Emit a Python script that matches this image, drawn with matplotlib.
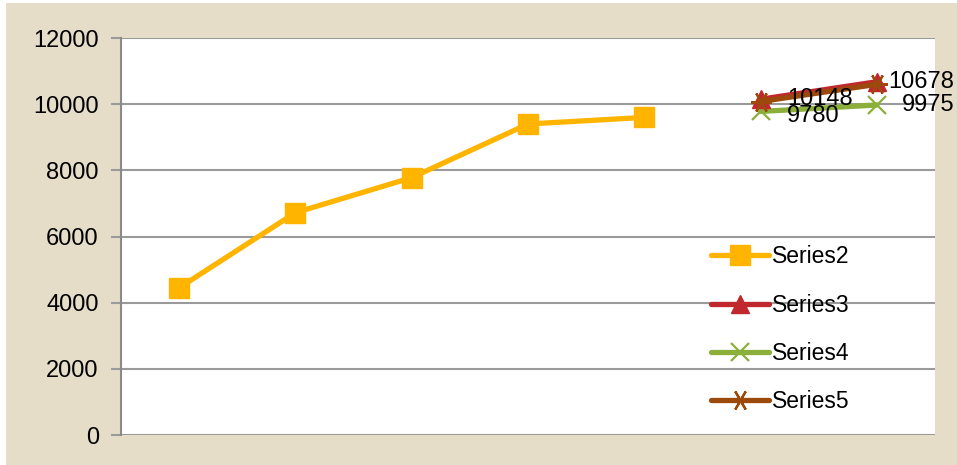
import matplotlib
matplotlib.use("Agg")
import matplotlib.pyplot as plt
from matplotlib.patches import Rectangle

plt.rcParams["font.family"] = ["Liberation Sans", "DejaVu Sans"]

categories = [1, 2, 3, 4, 5, 6, 7]
series2_x = [0, 1, 2, 3, 4]
series2 = [4450, 6720, 7780, 9400, 9600]
late_x = [5, 6]
series3 = [10148, 10678]
series4 = [9780, 9975]
series5 = [10080, 10600]
yticks = [0, 2000, 4000, 6000, 8000, 10000, 12000]

fig = plt.figure(figsize=(9.57, 4.65), dpi=100)
fig.patch.set_facecolor("white")
fig.patches.append(Rectangle((6 / 957, 0), 1, 1 - 3 / 465, transform=fig.transFigure,
                             facecolor="#E5DDC8", edgecolor="none", zorder=-10))

ax = fig.add_axes([121 / 957, 30 / 465, (935 - 121) / 957, (435 - 38) / 465])
ax.set_facecolor("white")

ax.plot(series2_x, series2, color="#FFB400", lw=3.8, marker="s", ms=14,
        mec="#FFB400", label="Series2", solid_capstyle="round", zorder=3)
ax.plot(late_x, series3, color="#C0282D", lw=3.8, marker="^", ms=13,
        label="Series3", solid_capstyle="round", zorder=4)
ax.plot(late_x, series4, color="#8BAF3A", lw=3.8, marker="x", ms=13, mew=1.6,
        label="Series4", solid_capstyle="round", zorder=3)
ax.plot(late_x, series5, color="#9C4A0B", lw=3.8, marker=(6, 2, 90), ms=15, mew=1.6,
        label="Series5", solid_capstyle="round", zorder=5)

lbl = dict(textcoords="offset points", fontsize=17, va="center", ha="left",
           zorder=6, annotation_clip=False)
ax.annotate(str(series3[0]), (late_x[0], series3[0]), xytext=(19, 0), **lbl)
ax.annotate(str(series3[1]), (late_x[1], series3[1]), xytext=(8, 0), **lbl)
ax.annotate(str(series4[0]), (late_x[0], series4[0]), xytext=(19, -3), **lbl)
ax.annotate(str(series4[1]), (late_x[1], series4[1]), xytext=(18, 0), **lbl)

ax.set_xlim(-0.5, len(categories) - 0.5)
ax.set_ylim(0, 12000)
ax.set_yticks(yticks)
ax.set_xticks([])
ax.grid(axis="y", color="#9A9A9A", lw=1.5)
ax.set_axisbelow(True)
for s in ["top", "right", "bottom"]:
    ax.spines[s].set_visible(False)
ax.spines["left"].set_color("#8A8A8A")
ax.spines["left"].set_linewidth(1.5)
ax.tick_params(axis="y", length=7, width=1.5, color="#9A9A9A", labelsize=17, pad=9)

leg = ax.legend(loc="lower left", bbox_to_anchor=(0.705, 0.015), frameon=False, fontsize=16.5,
                labelspacing=1.1, handlelength=2.55, handletextpad=0.1, borderaxespad=0.3)

fig.savefig("out.png", dpi=100, facecolor=fig.get_facecolor())
